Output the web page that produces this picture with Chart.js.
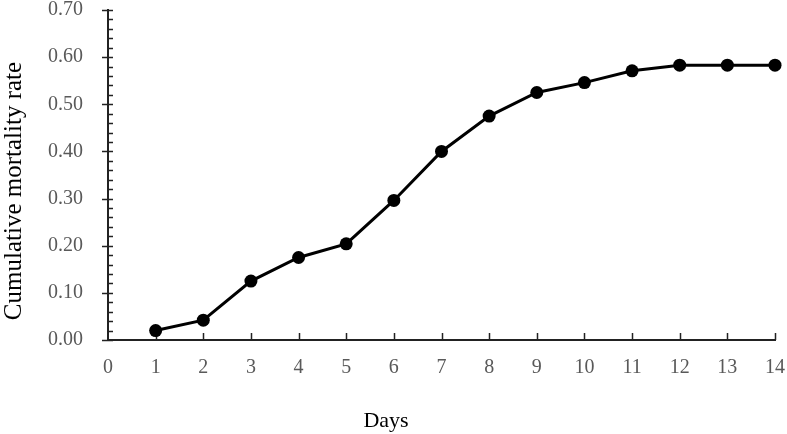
<!DOCTYPE html>
<html>
<head>
<meta charset="utf-8">
<script src="https://cdn.jsdelivr.net/npm/chart.js@4.4.1/dist/chart.umd.min.js"></script>
<style>
  html, body { margin: 0; padding: 0; background: #fff; }
  #chart { display: block; }
</style>
</head>
<body>
<canvas id="chart" width="787" height="434"></canvas>
<script>
// data
const days = [1, 2, 3, 4, 5, 6, 7, 8, 9, 10, 11, 12, 13, 14];
const mortality = [0.020, 0.042, 0.125, 0.175, 0.204, 0.296, 0.400, 0.475, 0.525, 0.546, 0.571, 0.583, 0.583, 0.583];
const xTickValues = [0, 1, 2, 3, 4, 5, 6, 7, 8, 9, 10, 11, 12, 13, 14];
const yTickValues = [0, 0.1, 0.2, 0.3, 0.4, 0.5, 0.6, 0.7];
const yMinorStep = 0.02;
const xTitle = 'Days';
const yTitle = 'Cumulative mortality rate';

const serif = "'Liberation Serif', 'Times New Roman', serif";
const axisColor = '#222';
const labelColor = '#595959';

// tick marks like the original: y major cross, y minor inside, x major inside
const axisMarks = {
    id: 'axisMarks',
    beforeDatasetsDraw(chart) {
        const { ctx, chartArea, scales: { x, y } } = chart;
        ctx.save();
        ctx.strokeStyle = axisColor;
        ctx.lineWidth = 1.5;
        ctx.beginPath();
        yTickValues.forEach(v => {
            const py = Math.round(y.getPixelForValue(v)) + 0.5;
            ctx.moveTo(chartArea.left - 6, py);
            ctx.lineTo(chartArea.left + 5, py);
        });
        for (let i = 0; i * yMinorStep <= 0.7 + 1e-9; i++) {
            if (i % 5 === 0) continue;
            const py = Math.round(y.getPixelForValue(i * yMinorStep)) + 0.5;
            ctx.moveTo(chartArea.left, py);
            ctx.lineTo(chartArea.left + 5, py);
        }
        xTickValues.forEach(v => {
            if (v === 0) return;
            const px = Math.round(x.getPixelForValue(v)) + 0.5;
            ctx.moveTo(px, chartArea.bottom);
            ctx.lineTo(px, chartArea.bottom - 7);
        });
        ctx.stroke();
        ctx.restore();
    },
    afterDraw(chart) {
        const { ctx } = chart;
        ctx.save();
        ctx.fillStyle = '#000';
        ctx.textAlign = 'center';
        ctx.textBaseline = 'alphabetic';
        ctx.font = '22px ' + serif;
        ctx.fillText(xTitle, 386, 427);
        ctx.translate(21, 191);
        ctx.rotate(-Math.PI / 2);
        ctx.font = '25px ' + serif;
        ctx.fillText(yTitle, 0, 0);
        ctx.restore();
    }
};

new Chart(document.getElementById('chart'), {
    type: 'line',
    data: {
        datasets: [{
            data: days.map((d, i) => ({ x: d, y: mortality[i] })),
            borderColor: '#000',
            backgroundColor: '#000',
            borderWidth: 3,
            pointRadius: 6.5,
            pointBackgroundColor: '#000',
            pointBorderWidth: 0,
            tension: 0,
            clip: false
        }]
    },
    options: {
        responsive: false,
        animation: false,
        devicePixelRatio: 1,
        layout: { padding: { top: 10, right: 12, left: 0, bottom: 0 } },
        plugins: { legend: { display: false }, tooltip: { enabled: false } },
        scales: {
            x: {
                type: 'linear', min: 0, max: 14,
                afterFit: s => { s.height = 94; s.paddingLeft = 0; s.paddingRight = 0; },
                afterBuildTicks: s => { s.ticks = xTickValues.map(v => ({ value: v })); },
                grid: { display: false, drawTicks: false },
                border: { display: true, color: axisColor, width: 2 },
                ticks: {
                    color: labelColor, padding: 18, maxRotation: 0, autoSkip: false,
                    font: { family: serif, size: 20, lineHeight: 1 }
                }
            },
            y: {
                min: 0, max: 0.7,
                afterFit: s => { s.width = 108; s.paddingTop = 0; s.paddingBottom = 0; },
                afterBuildTicks: s => { s.ticks = yTickValues.map(v => ({ value: v })); },
                grid: { display: false, drawTicks: false },
                border: { display: true, color: axisColor, width: 2 },
                ticks: {
                    color: labelColor, padding: 25,
                    font: { family: serif, size: 20, lineHeight: 1 },
                    callback: v => Number(v).toFixed(2)
                }
            }
        }
    },
    plugins: [axisMarks]
});
</script>
</body>
</html>
